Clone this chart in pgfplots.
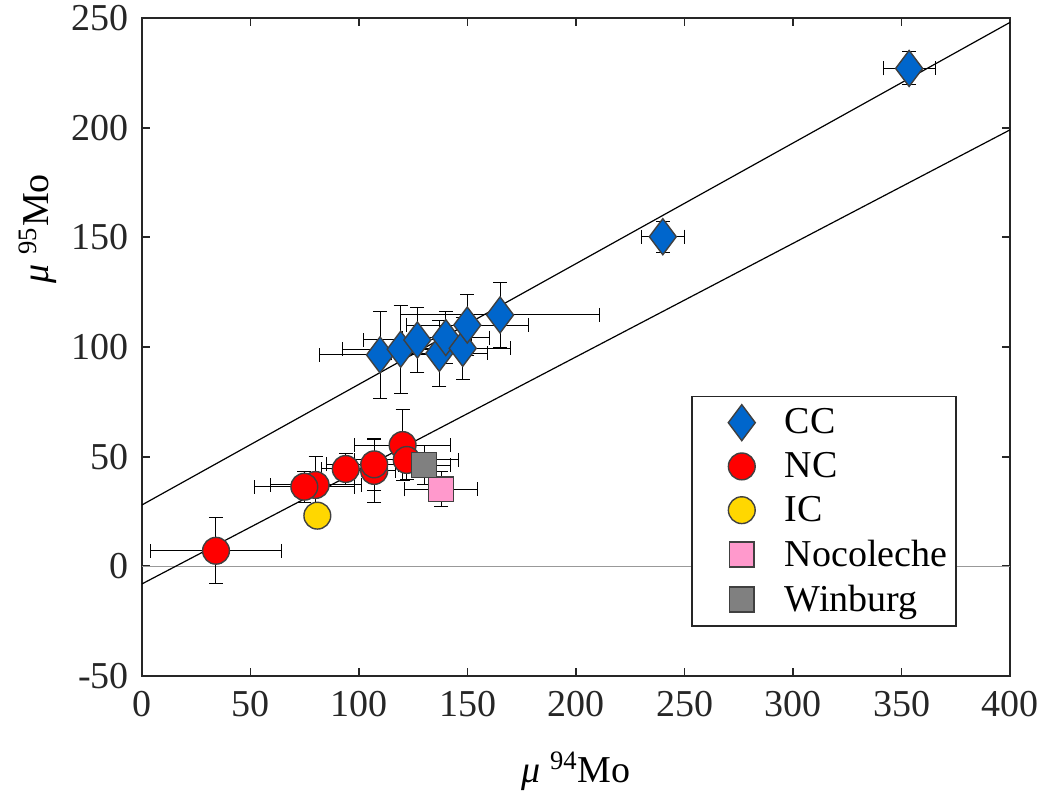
\documentclass[border=0pt]{standalone}
\usepackage{fontspec}
\setmainfont{Liberation Serif}
\usepackage{pgfplots}
\pgfplotsset{compat=1.18}
\usepackage{pgfplotstable}

% Mo isotope data: x, y, symmetric errors
\pgfplotstableread{
x     y      ex   ey
109.7 96.4   28   20
119.2 99.0   27   20
126.9 103.2  25   15
137.0 97.1   22   15
140.0 104.3  20   12
147.8 99.4   22   14
149.9 110.0  28   14
165.0 114.6  46   15
240.0 150.3  10   7
353.5 227.0  12   7.5
}\ccdata
\pgfplotstableread{
x     y      ex   ey
34.1  7.1    30   15
80.0  37.1   21   13
74.8  36.3   23   7
93.9  44.4   11   7
107.0 43.5   10   14.5
107.0 46.5   22   12
120.1 55.3   22   16
122.0 48.5   24   9
}\ncdata
\pgfplotstableread{
x     y
80.8  23.1
}\icdata
\pgfplotstableread{
x     y      ex   ey
137.8 35.1   17   8
}\nocodata
\pgfplotstableread{
x     y      ex   ey
130.0 46.2   12   9
}\windata

\definecolor{ccblue}{RGB}{0,102,204}
\definecolor{icgold}{RGB}{255,215,0}
\definecolor{nocopink}{RGB}{255,153,204}
\definecolor{edgegray}{RGB}{64,64,64}
\definecolor{framegray}{RGB}{38,38,38}

\begin{document}
\begin{tikzpicture}
\useasboundingbox (-71pt,-59pt) rectangle (450pt,338pt);
\begin{axis}[
  scale only axis,
  width=434pt, height=329pt,
  xmin=0, xmax=400, ymin=-50, ymax=250,
  xtick={0,50,...,400}, ytick={-50,0,...,250},
  tick align=inside,
  major tick length=4pt,
  axis line style={framegray, line width=0.9pt},
  tick style={framegray, line width=0.9pt},
  /pgf/number format/assume math mode=true,
  ticklabel style={font=\fontsize{19}{21}\selectfont, text=black!85},
  xticklabel style={yshift=-4pt},
  yticklabel style={xshift=-3pt},
  label style={font=\fontsize{19}{21}\selectfont},
  xlabel={{\itshape μ} \textsuperscript{94}Mo},
  ylabel={{\itshape μ} \textsuperscript{95}Mo},
  xlabel style={at={(axis description cs:0.5,-0.105)}, anchor=north},
  ylabel style={at={(axis description cs:-0.12,0.68)}, anchor=center},
  clip=true,
  legend cell align=left,
  legend image code/.code={
    \path[draw=none, fill=none] (0pt,-4pt) rectangle (42pt,4pt);
    \draw[mark repeat=2, mark phase=2] plot coordinates {(0pt,0pt) (22pt,0pt) (44pt,0pt)};},
  legend style={at={(axis description cs:0.939,0.0745)}, anchor=south east,
    draw=framegray, line width=0.8pt, fill=white,
    font=\fontsize{19}{21}\selectfont, row sep=3.8pt,
    inner xsep=3pt, inner ysep=4pt,
    nodes={inner xsep=1.5pt},
    /tikz/every even column/.append style={column sep=0pt}},
  error bars/error bar style={black, line width=0.5pt},
  error bars/error mark options={black, line width=0.5pt, mark size=3.5pt, rotate=90},
]
% reference lines
\addplot[gray!80, line width=0.6pt, forget plot] coordinates {(0,0) (400,0)};
\addplot[black, line width=0.6pt, forget plot] coordinates {(0,28) (400,248)};
\addplot[black, line width=0.6pt, forget plot] coordinates {(0,-8) (400,199)};

\addplot[only marks, mark=diamond*, mark size=9pt,
  mark options={fill=ccblue, draw=edgegray, line width=0.7pt},
  error bars/.cd, x dir=both, x explicit, y dir=both, y explicit]
  table[x=x, y=y, x error=ex, y error=ey] {\ccdata};
\addlegendentry{CC}

\addplot[only marks, mark=*, mark size=6.7pt,
  mark options={fill=red, draw=edgegray, line width=0.7pt},
  error bars/.cd, x dir=both, x explicit, y dir=both, y explicit]
  table[x=x, y=y, x error=ex, y error=ey] {\ncdata};
\addlegendentry{NC}

\addplot[only marks, mark=*, mark size=6.7pt,
  mark options={fill=icgold, draw=edgegray, line width=0.7pt}]
  table[x=x, y=y] {\icdata};
\addlegendentry{IC}

\addplot[only marks, mark=square*, mark size=6.2pt,
  mark options={fill=nocopink, draw=edgegray, line width=0.7pt},
  error bars/.cd, x dir=both, x explicit, y dir=both, y explicit]
  table[x=x, y=y, x error=ex, y error=ey] {\nocodata};
\addlegendentry{Nocoleche}

\addplot[only marks, mark=square*, mark size=6.2pt,
  mark options={fill=gray, draw=edgegray, line width=0.7pt},
  error bars/.cd, x dir=both, x explicit, y dir=both, y explicit]
  table[x=x, y=y, x error=ex, y error=ey] {\windata};
\addlegendentry{Winburg}
\end{axis}
\end{tikzpicture}
\end{document}
